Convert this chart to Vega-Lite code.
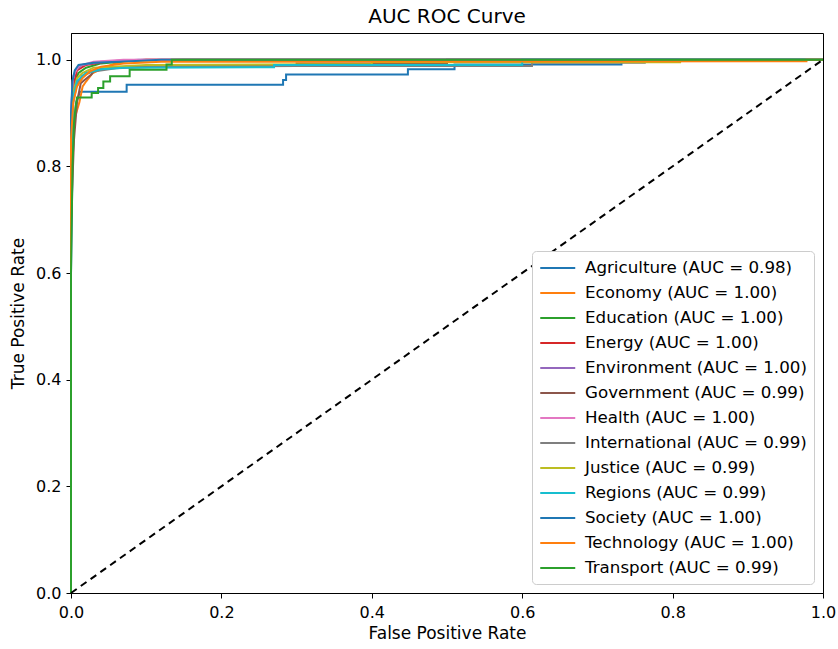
{
  "$schema": "https://vega.github.io/schema/vega-lite/v6.json",
  "width": 752,
  "height": 560,
  "autosize": "none",
  "padding": {"left": 71, "top": 33, "right": 15, "bottom": 56},
  "background": "white",
  "title": {"text": "AUC ROC Curve", "fontSize": 20, "font": "DejaVu Sans", "fontWeight": "normal", "color": "black", "anchor": "middle", "offset": 6},
  "config": {
    "font": "DejaVu Sans",
    "view": {"stroke": "black", "strokeWidth": 1},
    "axis": {"grid": false, "labelFlush": false, "domainColor": "black", "domainWidth": 1, "tickColor": "black", "tickSize": 5, "tickWidth": 1, "labelColor": "black", "labelFontSize": 16, "titleFontSize": 17, "titleFontWeight": "normal", "titleColor": "black", "labelFont": "DejaVu Sans", "titleFont": "DejaVu Sans"}
  },
  "layer": [
    {
      "data": {"values": [
        {"c":"Agriculture (AUC = 0.98)","i":0,"x":0,"y":0},{"c":"Agriculture (AUC = 0.98)","i":1,"x":0,"y":0.6},{"c":"Agriculture (AUC = 0.98)","i":2,"x":0.002,"y":0.8},{"c":"Agriculture (AUC = 0.98)","i":3,"x":0.004,"y":0.88},{"c":"Agriculture (AUC = 0.98)","i":4,"x":0.007,"y":0.92},{"c":"Agriculture (AUC = 0.98)","i":5,"x":0.012,"y":0.94},{"c":"Agriculture (AUC = 0.98)","i":6,"x":0.074,"y":0.94},{"c":"Agriculture (AUC = 0.98)","i":7,"x":0.074,"y":0.953},{"c":"Agriculture (AUC = 0.98)","i":8,"x":0.282,"y":0.953},{"c":"Agriculture (AUC = 0.98)","i":9,"x":0.282,"y":0.962},{"c":"Agriculture (AUC = 0.98)","i":10,"x":0.286,"y":0.962},{"c":"Agriculture (AUC = 0.98)","i":11,"x":0.286,"y":0.972},{"c":"Agriculture (AUC = 0.98)","i":12,"x":0.448,"y":0.972},{"c":"Agriculture (AUC = 0.98)","i":13,"x":0.448,"y":0.982},{"c":"Agriculture (AUC = 0.98)","i":14,"x":0.51,"y":0.982},{"c":"Agriculture (AUC = 0.98)","i":15,"x":0.51,"y":0.991},{"c":"Agriculture (AUC = 0.98)","i":16,"x":0.732,"y":0.991},{"c":"Agriculture (AUC = 0.98)","i":17,"x":0.732,"y":1},{"c":"Agriculture (AUC = 0.98)","i":18,"x":1,"y":1},
        {"c":"Economy (AUC = 1.00)","i":0,"x":0,"y":0},{"c":"Economy (AUC = 1.00)","i":1,"x":0,"y":0.7},{"c":"Economy (AUC = 1.00)","i":2,"x":0.002,"y":0.85},{"c":"Economy (AUC = 1.00)","i":3,"x":0.005,"y":0.89},{"c":"Economy (AUC = 1.00)","i":4,"x":0.008,"y":0.905},{"c":"Economy (AUC = 1.00)","i":5,"x":0.011,"y":0.919},{"c":"Economy (AUC = 1.00)","i":6,"x":0.0155,"y":0.95},{"c":"Economy (AUC = 1.00)","i":7,"x":0.02,"y":0.959},{"c":"Economy (AUC = 1.00)","i":8,"x":0.029,"y":0.975},{"c":"Economy (AUC = 1.00)","i":9,"x":0.038,"y":0.981},{"c":"Economy (AUC = 1.00)","i":10,"x":0.055,"y":0.991},{"c":"Economy (AUC = 1.00)","i":11,"x":0.071,"y":0.997},{"c":"Economy (AUC = 1.00)","i":12,"x":0.1,"y":1},{"c":"Economy (AUC = 1.00)","i":13,"x":1,"y":1},
        {"c":"Education (AUC = 1.00)","i":0,"x":0,"y":0},{"c":"Education (AUC = 1.00)","i":1,"x":0,"y":0.8},{"c":"Education (AUC = 1.00)","i":2,"x":0.002,"y":0.93},{"c":"Education (AUC = 1.00)","i":3,"x":0.005,"y":0.96},{"c":"Education (AUC = 1.00)","i":4,"x":0.01,"y":0.975},{"c":"Education (AUC = 1.00)","i":5,"x":0.02,"y":0.985},{"c":"Education (AUC = 1.00)","i":6,"x":0.04,"y":0.993},{"c":"Education (AUC = 1.00)","i":7,"x":0.08,"y":0.998},{"c":"Education (AUC = 1.00)","i":8,"x":0.15,"y":1},{"c":"Education (AUC = 1.00)","i":9,"x":1,"y":1},
        {"c":"Energy (AUC = 1.00)","i":0,"x":0,"y":0},{"c":"Energy (AUC = 1.00)","i":1,"x":0,"y":0.85},{"c":"Energy (AUC = 1.00)","i":2,"x":0.003,"y":0.95},{"c":"Energy (AUC = 1.00)","i":3,"x":0.008,"y":0.98},{"c":"Energy (AUC = 1.00)","i":4,"x":0.02,"y":0.99},{"c":"Energy (AUC = 1.00)","i":5,"x":0.05,"y":0.997},{"c":"Energy (AUC = 1.00)","i":6,"x":0.1,"y":1},{"c":"Energy (AUC = 1.00)","i":7,"x":1,"y":1},
        {"c":"Environment (AUC = 1.00)","i":0,"x":0,"y":0},{"c":"Environment (AUC = 1.00)","i":1,"x":0,"y":0.88},{"c":"Environment (AUC = 1.00)","i":2,"x":0.002,"y":0.96},{"c":"Environment (AUC = 1.00)","i":3,"x":0.006,"y":0.98},{"c":"Environment (AUC = 1.00)","i":4,"x":0.015,"y":0.99},{"c":"Environment (AUC = 1.00)","i":5,"x":0.04,"y":0.996},{"c":"Environment (AUC = 1.00)","i":6,"x":0.09,"y":1},{"c":"Environment (AUC = 1.00)","i":7,"x":1,"y":1},
        {"c":"Government (AUC = 0.99)","i":0,"x":0,"y":0},{"c":"Government (AUC = 0.99)","i":1,"x":0,"y":0.7},{"c":"Government (AUC = 0.99)","i":2,"x":0.004,"y":0.85},{"c":"Government (AUC = 0.99)","i":3,"x":0.008,"y":0.92},{"c":"Government (AUC = 0.99)","i":4,"x":0.013,"y":0.956},{"c":"Government (AUC = 0.99)","i":5,"x":0.018,"y":0.962},{"c":"Government (AUC = 0.99)","i":6,"x":0.027,"y":0.972},{"c":"Government (AUC = 0.99)","i":7,"x":0.03,"y":0.978},{"c":"Government (AUC = 0.99)","i":8,"x":0.043,"y":0.984},{"c":"Government (AUC = 0.99)","i":9,"x":0.09,"y":0.988},{"c":"Government (AUC = 0.99)","i":10,"x":0.3,"y":0.988},{"c":"Government (AUC = 0.99)","i":11,"x":0.3,"y":0.993},{"c":"Government (AUC = 0.99)","i":12,"x":0.5,"y":0.993},{"c":"Government (AUC = 0.99)","i":13,"x":0.5,"y":1},{"c":"Government (AUC = 0.99)","i":14,"x":1,"y":1},
        {"c":"Health (AUC = 1.00)","i":0,"x":0,"y":0},{"c":"Health (AUC = 1.00)","i":1,"x":0,"y":0.9},{"c":"Health (AUC = 1.00)","i":2,"x":0.003,"y":0.97},{"c":"Health (AUC = 1.00)","i":3,"x":0.01,"y":0.988},{"c":"Health (AUC = 1.00)","i":4,"x":0.03,"y":0.996},{"c":"Health (AUC = 1.00)","i":5,"x":0.07,"y":1},{"c":"Health (AUC = 1.00)","i":6,"x":1,"y":1},
        {"c":"International (AUC = 0.99)","i":0,"x":0,"y":0},{"c":"International (AUC = 0.99)","i":1,"x":0,"y":0.8},{"c":"International (AUC = 0.99)","i":2,"x":0.003,"y":0.92},{"c":"International (AUC = 0.99)","i":3,"x":0.008,"y":0.955},{"c":"International (AUC = 0.99)","i":4,"x":0.015,"y":0.97},{"c":"International (AUC = 0.99)","i":5,"x":0.03,"y":0.978},{"c":"International (AUC = 0.99)","i":6,"x":0.06,"y":0.984},{"c":"International (AUC = 0.99)","i":7,"x":0.12,"y":0.987},{"c":"International (AUC = 0.99)","i":8,"x":0.3,"y":0.988},{"c":"International (AUC = 0.99)","i":9,"x":0.613,"y":0.988},{"c":"International (AUC = 0.99)","i":10,"x":0.613,"y":0.994},{"c":"International (AUC = 0.99)","i":11,"x":0.763,"y":0.994},{"c":"International (AUC = 0.99)","i":12,"x":0.763,"y":1},{"c":"International (AUC = 0.99)","i":13,"x":1,"y":1},
        {"c":"Justice (AUC = 0.99)","i":0,"x":0,"y":0},{"c":"Justice (AUC = 0.99)","i":1,"x":0,"y":0.85},{"c":"Justice (AUC = 0.99)","i":2,"x":0.003,"y":0.94},{"c":"Justice (AUC = 0.99)","i":3,"x":0.008,"y":0.965},{"c":"Justice (AUC = 0.99)","i":4,"x":0.015,"y":0.975},{"c":"Justice (AUC = 0.99)","i":5,"x":0.03,"y":0.985},{"c":"Justice (AUC = 0.99)","i":6,"x":0.1,"y":0.99},{"c":"Justice (AUC = 0.99)","i":7,"x":0.4,"y":0.992},{"c":"Justice (AUC = 0.99)","i":8,"x":0.4,"y":0.995},{"c":"Justice (AUC = 0.99)","i":9,"x":0.81,"y":0.995},{"c":"Justice (AUC = 0.99)","i":10,"x":0.81,"y":1},{"c":"Justice (AUC = 0.99)","i":11,"x":1,"y":1},
        {"c":"Regions (AUC = 0.99)","i":0,"x":0,"y":0},{"c":"Regions (AUC = 0.99)","i":1,"x":0,"y":0.8},{"c":"Regions (AUC = 0.99)","i":2,"x":0.003,"y":0.93},{"c":"Regions (AUC = 0.99)","i":3,"x":0.008,"y":0.96},{"c":"Regions (AUC = 0.99)","i":4,"x":0.02,"y":0.975},{"c":"Regions (AUC = 0.99)","i":5,"x":0.04,"y":0.982},{"c":"Regions (AUC = 0.99)","i":6,"x":0.07,"y":0.985},{"c":"Regions (AUC = 0.99)","i":7,"x":0.27,"y":0.986},{"c":"Regions (AUC = 0.99)","i":8,"x":0.27,"y":0.99},{"c":"Regions (AUC = 0.99)","i":9,"x":0.6,"y":0.99},{"c":"Regions (AUC = 0.99)","i":10,"x":0.6,"y":1},{"c":"Regions (AUC = 0.99)","i":11,"x":1,"y":1},
        {"c":"Society (AUC = 1.00)","i":0,"x":0,"y":0},{"c":"Society (AUC = 1.00)","i":1,"x":0,"y":0.9},{"c":"Society (AUC = 1.00)","i":2,"x":0.002,"y":0.96},{"c":"Society (AUC = 1.00)","i":3,"x":0.005,"y":0.98},{"c":"Society (AUC = 1.00)","i":4,"x":0.01,"y":0.99},{"c":"Society (AUC = 1.00)","i":5,"x":0.03,"y":0.994},{"c":"Society (AUC = 1.00)","i":6,"x":0.08,"y":0.997},{"c":"Society (AUC = 1.00)","i":7,"x":0.12,"y":1},{"c":"Society (AUC = 1.00)","i":8,"x":1,"y":1},
        {"c":"Technology (AUC = 1.00)","i":0,"x":0,"y":0},{"c":"Technology (AUC = 1.00)","i":1,"x":0,"y":0.85},{"c":"Technology (AUC = 1.00)","i":2,"x":0.003,"y":0.92},{"c":"Technology (AUC = 1.00)","i":3,"x":0.008,"y":0.95},{"c":"Technology (AUC = 1.00)","i":4,"x":0.015,"y":0.965},{"c":"Technology (AUC = 1.00)","i":5,"x":0.025,"y":0.978},{"c":"Technology (AUC = 1.00)","i":6,"x":0.04,"y":0.987},{"c":"Technology (AUC = 1.00)","i":7,"x":0.07,"y":0.993},{"c":"Technology (AUC = 1.00)","i":8,"x":0.12,"y":0.996},{"c":"Technology (AUC = 1.00)","i":9,"x":0.978,"y":0.997},{"c":"Technology (AUC = 1.00)","i":10,"x":0.978,"y":1},{"c":"Technology (AUC = 1.00)","i":11,"x":1,"y":1},
        {"c":"Transport (AUC = 0.99)","i":0,"x":0,"y":0},{"c":"Transport (AUC = 0.99)","i":1,"x":0,"y":0.6},{"c":"Transport (AUC = 0.99)","i":2,"x":0.002,"y":0.8},{"c":"Transport (AUC = 0.99)","i":3,"x":0.004,"y":0.88},{"c":"Transport (AUC = 0.99)","i":4,"x":0.006,"y":0.91},{"c":"Transport (AUC = 0.99)","i":5,"x":0.008,"y":0.929},{"c":"Transport (AUC = 0.99)","i":6,"x":0.0275,"y":0.929},{"c":"Transport (AUC = 0.99)","i":7,"x":0.0275,"y":0.9375},{"c":"Transport (AUC = 0.99)","i":8,"x":0.036,"y":0.9375},{"c":"Transport (AUC = 0.99)","i":9,"x":0.036,"y":0.947},{"c":"Transport (AUC = 0.99)","i":10,"x":0.043,"y":0.947},{"c":"Transport (AUC = 0.99)","i":11,"x":0.043,"y":0.959},{"c":"Transport (AUC = 0.99)","i":12,"x":0.052,"y":0.959},{"c":"Transport (AUC = 0.99)","i":13,"x":0.052,"y":0.969},{"c":"Transport (AUC = 0.99)","i":14,"x":0.078,"y":0.969},{"c":"Transport (AUC = 0.99)","i":15,"x":0.078,"y":0.981},{"c":"Transport (AUC = 0.99)","i":16,"x":0.127,"y":0.981},{"c":"Transport (AUC = 0.99)","i":17,"x":0.127,"y":0.991},{"c":"Transport (AUC = 0.99)","i":18,"x":0.134,"y":0.991},{"c":"Transport (AUC = 0.99)","i":19,"x":0.134,"y":1},{"c":"Transport (AUC = 0.99)","i":20,"x":1,"y":1}
      ]},
      "mark": {"type": "line", "strokeWidth": 2},
      "encoding": {
        "x": {"field": "x", "type": "quantitative", "scale": {"domain": [0, 1], "nice": false, "zero": false}, "axis": {"title": "False Positive Rate", "values": [0, 0.2, 0.4, 0.6, 0.8, 1.0], "format": ".1f", "labelPadding": 6, "titlePadding": 5}},
        "y": {"field": "y", "type": "quantitative", "scale": {"domain": [0, 1.05], "nice": false, "zero": false}, "axis": {"title": "True Positive Rate", "values": [0, 0.2, 0.4, 0.6, 0.8, 1.0], "format": ".1f", "labelPadding": 5, "titlePadding": 8}},
        "order": {"field": "i", "type": "quantitative"},
        "color": {"field": "c", "type": "nominal", "title": null,
          "scale": {
            "domain": ["Agriculture (AUC = 0.98)", "Economy (AUC = 1.00)", "Education (AUC = 1.00)", "Energy (AUC = 1.00)", "Environment (AUC = 1.00)", "Government (AUC = 0.99)", "Health (AUC = 1.00)", "International (AUC = 0.99)", "Justice (AUC = 0.99)", "Regions (AUC = 0.99)", "Society (AUC = 1.00)", "Technology (AUC = 1.00)", "Transport (AUC = 0.99)"],
            "range": ["#1f77b4", "#ff7f0e", "#2ca02c", "#d62728", "#9467bd", "#8c564b", "#e377c2", "#7f7f7f", "#bcbd22", "#17becf", "#1f77b4", "#ff7f0e", "#2ca02c"]
          },
          "legend": {"orient": "bottom-right", "offset": 9, "symbolType": "M-1,0H3", "symbolSize": 306, "symbolStrokeWidth": 2, "symbolFillColor": "transparent", "labelFontSize": 16.7, "labelFont": "DejaVu Sans", "labelColor": "black", "labelLimit": 400, "labelOffset": 26, "rowPadding": 6, "padding": 7, "strokeColor": "#cccccc", "fillColor": "white", "cornerRadius": 4}
        }
      }
    },
    {
      "data": {"values": [{"x": 0, "y": 0}, {"x": 1, "y": 1}]},
      "mark": {"type": "line", "color": "black", "strokeWidth": 2, "strokeDash": [7, 5]},
      "encoding": {
        "x": {"field": "x", "type": "quantitative"},
        "y": {"field": "y", "type": "quantitative"}
      }
    }
  ]
}
